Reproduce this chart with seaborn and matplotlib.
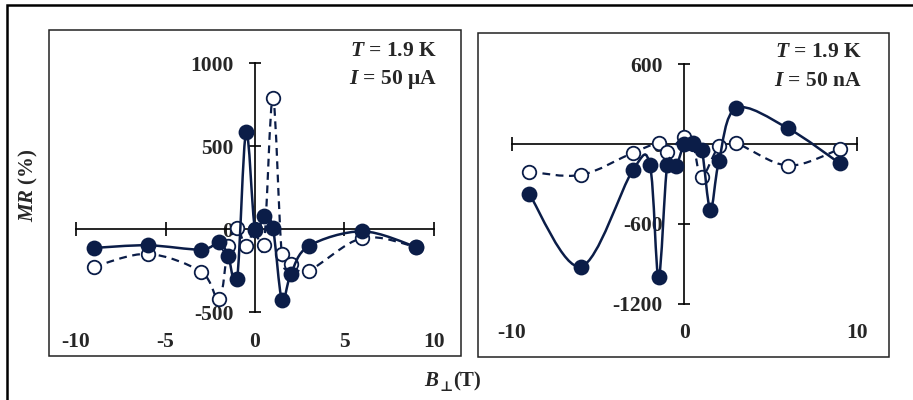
#!/usr/bin/env python3
"""
MR vs perpendicular field, two currents (50 uA / 50 nA), T = 1.9 K.
Excel-style layout: axes crossing at zero, smoothed lines.
"""

import numpy as np
import matplotlib
matplotlib.use("Agg")
import matplotlib.pyplot as plt
import seaborn as sns
from matplotlib.path import Path
from matplotlib.patches import PathPatch, Rectangle

# --- left panel, I = 50 uA ---
b_left_full = [-9, -6, -3, -2, -1.5, -1, -0.5, 0, 0.5, 1, 1.5, 2, 3, 6, 9]
mr_left_full = [-114, -98, -124, -80, -160, -301, 585, -3, 77, 6, -425, -272, -103, -14, -108]
b_left_open = [-9, -6, -3, -2, -1.5, -1, -0.5, 0, 0.5, 1, 1.5, 2, 3, 6, 9]
mr_left_open = [-228, -150, -258, -424, -104, 6, -104, 0, -96, 792, -152, -212, -250, -54, -108]

# --- right panel, I = 50 nA ---
b_right_full = [-9, -6, -3, -2, -1.5, -1, -0.5, 0, 0.5, 1, 1.5, 2, 3, 6, 9]
mr_right_full = [-375, -920, -197, -160, -998, -160, -167, 0, 5, -42, -492, -127, 269, 118, -145]
b_right_open = [-9, -6, -3, -1.5, -1, 0, 0.5, 1, 2, 3, 6, 9]
mr_right_open = [-208, -232, -66, 5, -58, 55, -2, -245, -18, 5, -162, -38]

left_xticks = [-10, -5, 0, 5, 10]
left_yticks = [-500, 0, 500, 1000]
right_xticks = [-10, 0, 10]
right_yticks = [-1200, -600, 0, 600]

NAVY = "#0b1d48"
W, H = 913, 400


def smooth_path(x, y, t=1 / 6):
    """Catmull-Rom style bezier through the points (like Excel 'smoothed line')"""
    p = np.column_stack([x, y]).astype(float)
    n = len(p)
    verts = [p[0]]
    codes = [Path.MOVETO]
    for i in range(n - 1):
        p0 = p[i - 1] if i > 0 else p[i]
        p3 = p[i + 2] if i + 2 < n else p[i + 1]
        c1 = p[i] + (p[i + 1] - p0) * t
        c2 = p[i + 1] - (p3 - p[i]) * t
        verts += [c1, c2, p[i + 1]]
        codes += [Path.CURVE4] * 3
    return Path(verts, codes)


def px_box(x0, y0, x1, y1):
    return [x0 / W, 1 - y1 / H, (x1 - x0) / W, (y1 - y0) / H]


def draw_panel(ax, b_full, mr_full, b_open, mr_open, xticks, yticks,
               xlim, ylim, xlab_y, txt_x, txt_y, current):
    ax.set_xlim(*xlim)
    ax.set_ylim(*ylim)

    # open series first (dashed), then filled series on top
    ax.add_patch(PathPatch(smooth_path(b_open, mr_open), facecolor="none",
                           edgecolor=NAVY, lw=1.6, ls=(0, (3.5, 2.5)), zorder=2))
    sns.scatterplot(x=b_open, y=mr_open, ax=ax, s=95, color="white",
                    edgecolor=NAVY, linewidth=1.3, zorder=3, legend=False)
    ax.add_patch(PathPatch(smooth_path(b_full, mr_full), facecolor="none",
                           edgecolor=NAVY, lw=1.8, zorder=4))
    sns.scatterplot(x=b_full, y=mr_full, ax=ax, s=130, color=NAVY,
                    edgecolor=NAVY, linewidth=0, zorder=5, legend=False)

    # axes crossing at zero
    for side in ["top", "right"]:
        ax.spines[side].set_visible(False)
    ax.spines["left"].set_position(("data", 0))
    ax.spines["bottom"].set_position(("data", 0))
    ax.spines["left"].set_bounds(yticks[0], yticks[-1])
    ax.spines["bottom"].set_bounds(xticks[0], xticks[-1])
    for side in ["left", "bottom"]:
        ax.spines[side].set_linewidth(1.2)
        ax.spines[side].set_color("black")
        ax.spines[side].set_zorder(1)
    ax.set_xticks(xticks)
    ax.set_yticks(yticks)
    ax.set_yticklabels([str(v) for v in yticks])
    ax.tick_params(axis="x", bottom=True, direction="inout", length=10,
                   width=1.2, color="black", labelbottom=False)
    ax.tick_params(axis="y", left=True, direction="inout", length=9,
                   width=1.2, color="black", pad=11, labelsize=15.5)

    # x tick labels sit at the bottom of the panel
    for v in xticks:
        ax.text(v, xlab_y, str(v), transform=ax.get_xaxis_transform(),
                ha="center", va="center", fontsize=15.5, fontweight="bold")

    ax.text(txt_x, txt_y[0], r"$\mathit{T}$ = 1.9 K", transform=ax.transAxes,
            ha="right", va="center", fontsize=15.5, fontweight="bold")
    ax.text(txt_x, txt_y[1], r"$\mathit{I}$ = " + current, transform=ax.transAxes,
            ha="right", va="center", fontsize=15.5, fontweight="bold")

    # panel frame
    ax.add_patch(Rectangle((0, 0), 1, 1, transform=ax.transAxes, fill=False,
                           lw=1.1, edgecolor="#222222", clip_on=False, zorder=0))
    ax.set_xlabel("")
    ax.set_ylabel("")


def main():
    sns.set_style("white")
    plt.rcParams["font.family"] = ["Liberation Serif", "DejaVu Serif"]
    plt.rcParams["font.weight"] = "bold"
    plt.rcParams["mathtext.fontset"] = "custom"
    plt.rcParams["mathtext.rm"] = "Liberation Serif:bold"
    plt.rcParams["mathtext.it"] = "Liberation Serif:italic:bold"
    plt.rcParams["mathtext.bf"] = "Liberation Serif:bold"

    fig = plt.figure(figsize=(W / 100, H / 100), dpi=100)

    ax1 = fig.add_axes(px_box(49, 30, 461, 356))
    draw_panel(ax1, b_left_full, mr_left_full, b_left_open, mr_left_open,
               left_xticks, left_yticks, (-11.51, 11.51), (-765, 1199),
               0.043, 0.942, (0.936, 0.847), "50 μA")

    ax2 = fig.add_axes(px_box(478, 33, 889, 357))
    draw_panel(ax2, b_right_full, mr_right_full, b_right_open, mr_right_open,
               right_xticks, right_yticks, (-11.97, 11.86), (-1598, 833),
               0.074, 0.934, (0.941, 0.852), "50 nA")

    fig.text(28 / W, 1 - 185 / H, r"$\mathit{MR}$ (%)", rotation=90,
             ha="center", va="center", fontsize=15, fontweight="bold")
    # B with perpendicular subscript, then unit
    fig.text(439 / W, 1 - 381 / H, r"$\mathit{B}$", ha="right", va="center",
             fontsize=15, fontweight="bold")
    fig.text(439 / W, 1 - 387 / H, "⊥", ha="left", va="center",
             fontsize=10, family="DejaVu Serif")
    fig.text(453 / W, 1 - 381 / H, "(T)", ha="left", va="center",
             fontsize=15, fontweight="bold")

    # outer border (top and left edges visible)
    fig.add_artist(Rectangle((7 / W, -0.2), 1.2, 1.2 - 5 / H,
                             transform=fig.transFigure, fill=False, lw=1.8,
                             edgecolor="black"))

    fig.savefig("out.png", dpi=100)
    plt.close(fig)


if __name__ == "__main__":
    main()
